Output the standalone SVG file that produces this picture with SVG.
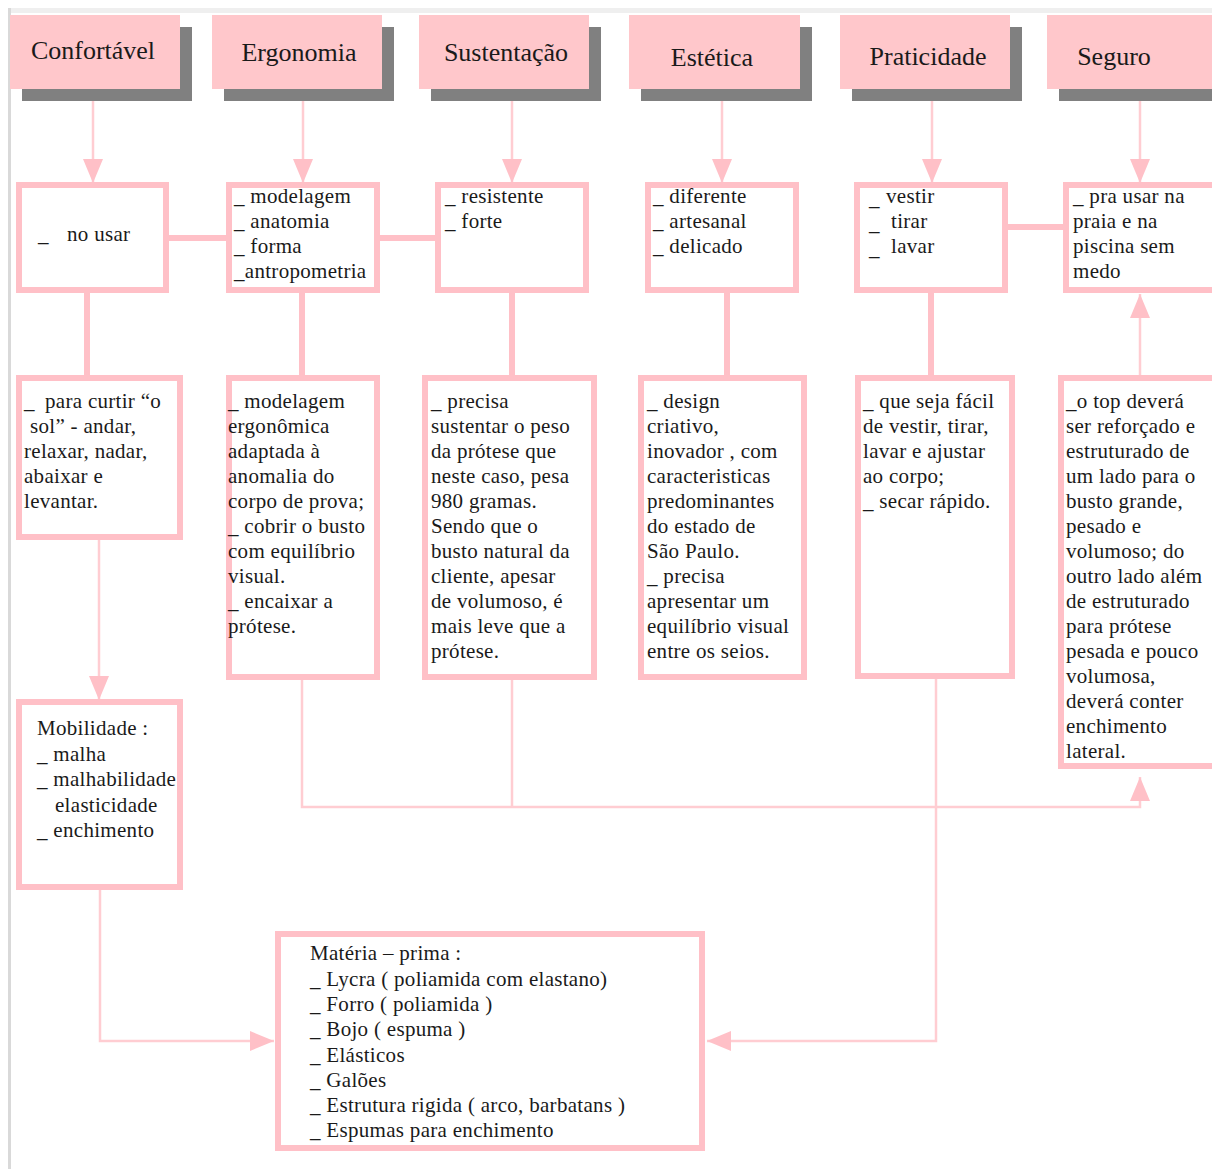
<svg xmlns="http://www.w3.org/2000/svg" width="1212" height="1169" viewBox="0 0 1212 1169">
<style>
.hdr{fill:#ffc7cb}
.shd{fill:#808080}
.box{fill:#ffffff;stroke:#ffc0c7;stroke-width:6}
.thick{fill:none;stroke:#ffc0c7;stroke-width:6}
.thin{fill:none;stroke:#ffcdd2;stroke-width:2.5}
.ht{font-family:"Liberation Serif","Times New Roman",serif;font-size:26px;fill:#1a1a1a;text-anchor:middle}
.t{font-family:"Liberation Serif","Times New Roman",serif;font-size:21px;fill:#1a1a1a;letter-spacing:0.3px}
</style>
<defs>
<marker id="ah" markerUnits="userSpaceOnUse" markerWidth="24" markerHeight="20" refX="24" refY="10" orient="auto" viewBox="0 0 24 20">
<path d="M0,0 L24,10 L0,20 z" fill="#ffc0c7"/>
</marker>
</defs>
<rect x="0" y="0" width="1212" height="1169" fill="#ffffff"/>
<rect x="8" y="8" width="1204" height="5" fill="#efefef"/>
<rect x="8" y="8" width="3" height="1161" fill="#d9d9d9"/>

<g id="connectors">
<line class="thin" x1="93" y1="100" x2="93" y2="183" marker-end="url(#ah)"/>
<line class="thin" x1="303" y1="100" x2="303" y2="183" marker-end="url(#ah)"/>
<line class="thin" x1="512" y1="100" x2="512" y2="183" marker-end="url(#ah)"/>
<line class="thin" x1="722" y1="100" x2="722" y2="183" marker-end="url(#ah)"/>
<line class="thin" x1="932" y1="100" x2="932" y2="183" marker-end="url(#ah)"/>
<line class="thin" x1="1140" y1="100" x2="1140" y2="183" marker-end="url(#ah)"/>
<line class="thick" x1="168" y1="238" x2="227" y2="238"/>
<line class="thick" x1="379" y1="238" x2="436" y2="238"/>
<line class="thick" x1="1007" y1="227" x2="1064" y2="227"/>
<line class="thick" x1="87" y1="292" x2="87" y2="376"/>
<line class="thick" x1="302" y1="292" x2="302" y2="376"/>
<line class="thick" x1="512" y1="292" x2="512" y2="376"/>
<line class="thick" x1="727" y1="292" x2="727" y2="376"/>
<line class="thick" x1="931" y1="292" x2="931" y2="376"/>
<line class="thin" x1="1140" y1="375" x2="1140" y2="294" marker-end="url(#ah)"/>
<line class="thin" x1="99" y1="540" x2="99" y2="700" marker-end="url(#ah)"/>
<polyline class="thin" points="302,680 302,807 1140,807 1140,777" marker-end="url(#ah)"/>
<line class="thin" x1="512" y1="680" x2="512" y2="807"/>
<polyline class="thin" points="936,679 936,1041 707,1041" marker-end="url(#ah)"/>
<polyline class="thin" points="100,890 100,1041 274,1041" marker-end="url(#ah)"/>
</g>

<g id="h-confortavel"><rect class="shd" x="22" y="27" width="170" height="74"/><rect class="hdr" x="10" y="15" width="170" height="74"/><text class="ht" x="93" y="59">Confortável</text></g>
<g id="h-ergonomia"><rect class="shd" x="224" y="27" width="170" height="74"/><rect class="hdr" x="212" y="15" width="170" height="74"/><text class="ht" x="299" y="61">Ergonomia</text></g>
<g id="h-sustentacao"><rect class="shd" x="431" y="27" width="170" height="74"/><rect class="hdr" x="419" y="15" width="170" height="74"/><text class="ht" x="506" y="61">Sustentação</text></g>
<g id="h-estetica"><rect class="shd" x="641" y="27" width="171" height="74"/><rect class="hdr" x="629" y="15" width="171" height="74"/><text class="ht" x="712" y="66">Estética</text></g>
<g id="h-praticidade"><rect class="shd" x="852" y="27" width="170" height="74"/><rect class="hdr" x="840" y="15" width="170" height="74"/><text class="ht" x="928" y="65">Praticidade</text></g>
<g id="h-seguro"><rect class="shd" x="1059" y="27" width="190" height="74"/><rect class="hdr" x="1047" y="15" width="190" height="74"/><text class="ht" x="1114" y="65">Seguro</text></g>

<g id="n-no-usar"><rect class="box" x="19" y="185" width="147" height="105"/>
<text class="t" x="38" y="241">_</text><text class="t" x="67" y="241">no usar</text></g>

<g id="n-modelagem"><rect class="box" x="229" y="185" width="148" height="105"/>
<text class="t" x="234"><tspan x="234" y="203">_ modelagem</tspan><tspan x="234" y="228">_ anatomia</tspan><tspan x="234" y="253">_ forma</tspan><tspan x="234" y="278">_antropometria</tspan></text></g>

<g id="n-resistente"><rect class="box" x="438" y="185" width="148" height="105"/>
<text class="t"><tspan x="445" y="203">_ resistente</tspan><tspan x="445" y="228">_ forte</tspan></text></g>

<g id="n-diferente"><rect class="box" x="648" y="185" width="148" height="105"/>
<text class="t"><tspan x="653" y="203">_ diferente</tspan><tspan x="653" y="228">_ artesanal</tspan><tspan x="653" y="253">_ delicado</tspan></text></g>

<g id="n-vestir"><rect class="box" x="857" y="185" width="148" height="105"/>
<text class="t"><tspan x="869" y="205">_</tspan><tspan x="886" y="203">vestir</tspan><tspan x="869" y="230">_</tspan><tspan x="891" y="228">tirar</tspan><tspan x="869" y="255">_</tspan><tspan x="891" y="253">lavar</tspan></text></g>

<g id="n-pra-usar"><rect class="box" x="1066" y="185" width="160" height="105"/>
<text class="t"><tspan x="1073" y="203">_ pra usar na</tspan><tspan x="1073" y="228">praia e na</tspan><tspan x="1073" y="253">piscina sem</tspan><tspan x="1073" y="278">medo</tspan></text></g>

<g id="n-curtir"><rect class="box" x="19" y="378" width="161" height="159"/>
<text class="t"><tspan x="24" y="408">_</tspan><tspan x="45" y="408">para curtir “o</tspan><tspan x="30" y="433">sol” - andar,</tspan><tspan x="24" y="458">relaxar,  nadar,</tspan><tspan x="24" y="483">abaixar e</tspan><tspan x="24" y="508">levantar.</tspan></text></g>

<g id="n-ergonomica"><rect class="box" x="229" y="378" width="148" height="299"/>
<text class="t"><tspan x="228" y="408">_ modelagem</tspan><tspan x="228" y="433">ergonômica</tspan><tspan x="228" y="458">adaptada à</tspan><tspan x="228" y="483">anomalia do</tspan><tspan x="228" y="508">corpo de prova;</tspan><tspan x="228" y="533">_ cobrir o busto</tspan><tspan x="228" y="558">com equilíbrio</tspan><tspan x="228" y="583">visual.</tspan><tspan x="228" y="608">_ encaixar a</tspan><tspan x="228" y="633">prótese.</tspan></text></g>

<g id="n-precisa"><rect class="box" x="425" y="378" width="169" height="299"/>
<text class="t"><tspan x="431" y="408">_ precisa</tspan><tspan x="431" y="433">sustentar o peso</tspan><tspan x="431" y="458">da prótese que</tspan><tspan x="431" y="483">neste caso, pesa</tspan><tspan x="431" y="508">980  gramas.</tspan><tspan x="431" y="533">Sendo que o</tspan><tspan x="431" y="558">busto natural da</tspan><tspan x="431" y="583">cliente, apesar</tspan><tspan x="431" y="608">de volumoso, é</tspan><tspan x="431" y="633">mais leve que a</tspan><tspan x="431" y="658">prótese.</tspan></text></g>

<g id="n-design"><rect class="box" x="641" y="378" width="163" height="299"/>
<text class="t"><tspan x="647" y="408">_ design</tspan><tspan x="647" y="433">criativo,</tspan><tspan x="647" y="458">inovador , com</tspan><tspan x="647" y="483">caracteristicas</tspan><tspan x="647" y="508">predominantes</tspan><tspan x="647" y="533">do estado  de</tspan><tspan x="647" y="558">São Paulo.</tspan><tspan x="647" y="583">_  precisa</tspan><tspan x="647" y="608">apresentar um</tspan><tspan x="647" y="633">equilíbrio visual</tspan><tspan x="647" y="658">entre os seios.</tspan></text></g>

<g id="n-facil"><rect class="box" x="858" y="378" width="154" height="298"/>
<text class="t"><tspan x="863" y="408">_ que seja fácil</tspan><tspan x="863" y="433">de vestir, tirar,</tspan><tspan x="863" y="458">lavar e ajustar</tspan><tspan x="863" y="483">ao corpo;</tspan><tspan x="863" y="508">_ secar rápido.</tspan></text></g>

<g id="n-top"><rect class="box" x="1061" y="378" width="160" height="388"/>
<text class="t"><tspan x="1066" y="408">_o top deverá</tspan><tspan x="1066" y="433">ser reforçado e</tspan><tspan x="1066" y="458">estruturado de</tspan><tspan x="1066" y="483">um lado para o</tspan><tspan x="1066" y="508">busto grande,</tspan><tspan x="1066" y="533">pesado e</tspan><tspan x="1066" y="558">volumoso; do</tspan><tspan x="1066" y="583">outro lado além</tspan><tspan x="1066" y="608">de estruturado</tspan><tspan x="1066" y="633">para prótese</tspan><tspan x="1066" y="658">pesada e pouco</tspan><tspan x="1066" y="683">volumosa,</tspan><tspan x="1066" y="708">deverá conter</tspan><tspan x="1066" y="733">enchimento</tspan><tspan x="1066" y="758">lateral.</tspan></text></g>

<g id="n-mobilidade"><rect class="box" x="19" y="702" width="161" height="185"/>
<text class="t"><tspan x="37" y="735">Mobilidade :</tspan><tspan x="37" y="761">_ malha</tspan><tspan x="37" y="786">_ malhabilidade</tspan><tspan x="55" y="812">elasticidade</tspan><tspan x="37" y="837">_ enchimento</tspan></text></g>

<g id="n-materia"><rect class="box" x="278" y="934" width="424" height="214"/>
<text class="t"><tspan x="310" y="960">Matéria – prima :</tspan><tspan x="310" y="986">_ Lycra ( poliamida com  elastano)</tspan><tspan x="310" y="1011">_ Forro ( poliamida )</tspan><tspan x="310" y="1036">_ Bojo ( espuma )</tspan><tspan x="310" y="1062">_ Elásticos</tspan><tspan x="310" y="1087">_ Galões</tspan><tspan x="310" y="1112">_ Estrutura rigida ( arco, barbatans )</tspan><tspan x="310" y="1137">_ Espumas para enchimento</tspan></text></g>
</svg>
